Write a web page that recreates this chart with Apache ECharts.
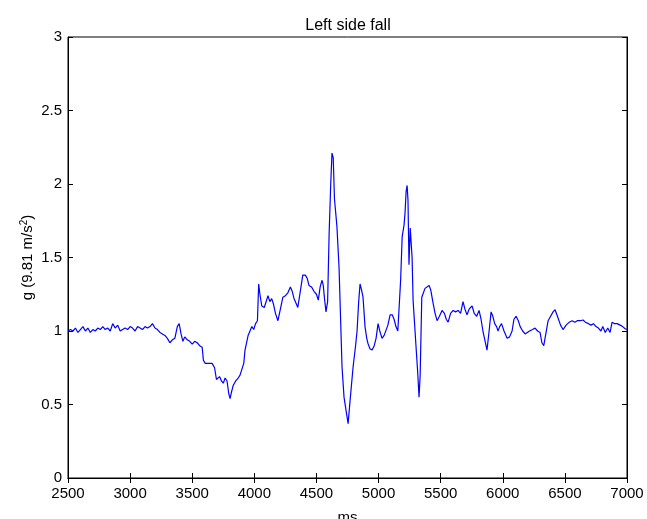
<!DOCTYPE html>
<html>
<head>
<meta charset="utf-8">
<script src="https://cdn.jsdelivr.net/npm/echarts@6/dist/echarts.min.js"></script>
<style>html,body{margin:0;padding:0;background:#fff}#c{width:647px;height:519px}</style>
</head>
<body>
<div id="c"></div>
<script>
const timeMs = [2500,2520,2540,2560,2580,2600,2620,2640,2660,2680,2700,2720,2740,2760,2780,2800,2820,2840,2860,2880,2900,2920,2940,2960,2980,3000,3020,3040,3060,3080,3100,3120,3140,3160,3180,3200,3220,3240,3260,3280,3300,3320,3340,3360,3380,3395,3410,3425,3440,3460,3480,3500,3520,3540,3560,3580,3590,3605,3620,3640,3660,3680,3695,3710,3720,3735,3750,3765,3780,3795,3805,3815,3830,3850,3870,3885,3900,3915,3925,3940,3950,3965,3980,3995,4010,4025,4035,4045,4060,4080,4095,4110,4125,4140,4155,4170,4190,4210,4230,4250,4270,4290,4305,4320,4340,4350,4370,4390,4410,4425,4440,4460,4480,4500,4515,4530,4545,4555,4565,4577,4590,4602,4615,4625,4635,4645,4665,4682,4706,4722,4740,4755,4771,4795,4815,4827,4840,4851,4863,4875,4891,4905,4915,4930,4948,4965,4980,4996,5010,5028,5045,5060,5075,5093,5110,5125,5140,5155,5165,5178,5190,5205,5213,5222,5230,5237,5245,5255,5262,5270,5278,5290,5302,5315,5326,5335,5348,5360,5374,5390,5407,5420,5439,5455,5471,5490,5511,5530,5545,5560,5580,5600,5620,5640,5660,5680,5695,5712,5730,5753,5770,5790,5809,5825,5841,5858,5873,5890,5906,5920,5935,5950,5962,5975,5990,6010,6035,6055,6075,6090,6107,6125,6140,6160,6180,6196,6215,6240,6260,6280,6300,6315,6330,6345,6365,6385,6405,6421,6440,6465,6485,6510,6535,6558,6580,6600,6625,6646,6665,6690,6710,6730,6750,6770,6790,6805,6825,6845,6864,6880,6900,6920,6945,6965,6985,7000];
const gValues = [1.00,1.01,1.00,1.02,0.99,1.01,1.03,1.00,1.02,0.99,1.01,1.00,1.02,1.01,1.03,1.01,1.02,1.00,1.05,1.02,1.04,1.00,1.01,1.02,1.01,1.03,1.02,1.00,1.03,1.02,1.01,1.03,1.02,1.03,1.05,1.02,1.01,0.99,0.98,0.97,0.95,0.92,0.94,0.95,1.03,1.05,0.98,0.93,0.96,0.94,0.93,0.91,0.93,0.92,0.90,0.89,0.80,0.78,0.79,0.78,0.78,0.75,0.67,0.66,0.69,0.66,0.645,0.68,0.66,0.57,0.54,0.58,0.63,0.66,0.68,0.70,0.69,0.78,0.87,0.93,0.97,1.00,1.03,1.01,1.05,1.07,1.32,1.25,1.17,1.16,1.17,1.24,1.20,1.22,1.18,1.12,1.07,1.15,1.23,1.24,1.26,1.30,1.27,1.22,1.18,1.16,1.27,1.38,1.38,1.36,1.31,1.30,1.27,1.25,1.21,1.30,1.345,1.31,1.22,1.13,1.20,1.66,2.00,2.21,2.18,1.90,1.71,1.43,0.755,0.55,0.45,0.37,0.53,0.755,0.90,1.00,1.20,1.32,1.28,1.23,1.03,0.95,0.915,0.88,0.87,0.90,0.95,1.05,1.00,0.95,0.97,0.98,1.04,1.11,1.11,1.08,1.03,1.00,1.00,1.35,1.64,1.72,1.80,1.95,1.99,1.89,1.45,1.70,1.70,1.50,1.21,1.05,0.89,0.72,0.55,0.70,1.23,1.24,1.29,1.28,1.31,1.28,1.19,1.12,1.07,1.10,1.14,1.12,1.08,1.06,1.12,1.14,1.13,1.14,1.12,1.20,1.15,1.11,1.15,1.17,1.12,1.10,1.14,1.08,0.995,0.93,0.87,1.00,1.13,1.10,1.05,1.03,1.00,1.03,1.05,1.00,0.95,0.96,1.00,1.08,1.10,1.07,1.03,1.00,0.98,0.97,1.00,1.01,1.02,1.00,0.99,0.92,0.90,0.91,1.07,1.10,1.13,1.145,1.10,1.04,1.01,1.04,1.06,1.07,1.06,1.07,1.07,1.075,1.06,1.05,1.04,1.05,1.03,1.02,1.00,1.03,0.99,1.02,0.99,1.06,1.05,1.05,1.04,1.03,1.015,1.01];
const xTicks = {min: 2500, max: 7000, step: 500};
const yTicks = {min: 0, max: 3, step: 0.5};

const chart = echarts.init(document.getElementById('c'), null, {renderer: 'canvas'});
const font = 'Liberation Sans, Arial, sans-serif';
const lineData = timeMs.map((t, i) => [t, gValues[i]]);
const axisCommon = {
  axisLine: {show: true, lineStyle: {color: '#000', width: 1}},
  axisTick: {show: true, inside: true, length: 5, lineStyle: {color: '#000'}},
  splitLine: {show: false}
};
chart.setOption({
  animation: false,
  backgroundColor: '#fff',
  title: {
    text: 'Left side fall', left: 343, top: 13, textAlign: 'center',
    textStyle: {fontFamily: font, fontSize: 16, fontWeight: 'normal', color: '#000'}
  },
  grid: {left: 68, right: 20, top: 37, bottom: 41, show: true, borderColor: '#000', borderWidth: 1,
         containLabel: false, outerBoundsMode: 'none'},
  xAxis: [
    Object.assign({
      type: 'value', min: xTicks.min, max: xTicks.max, interval: xTicks.step, position: 'bottom',
      name: 'ms', nameLocation: 'middle', nameGap: 32, nameMoveOverlap: false,
      nameTextStyle: {fontFamily: font, fontSize: 15, color: '#000'},
      axisLabel: {fontFamily: font, fontSize: 15, color: '#000', margin: 8, formatter: v => String(v)}
    }, axisCommon),
    Object.assign({
      type: 'value', min: xTicks.min, max: xTicks.max, interval: xTicks.step, position: 'top',
      axisLabel: {show: false}
    }, axisCommon)
  ],
  yAxis: [
    Object.assign({
      type: 'value', min: yTicks.min, max: yTicks.max, interval: yTicks.step, position: 'left',
      name: '{a|g (9.81 m/s}{b|2}{a|)}', nameLocation: 'middle', nameGap: 32, nameMoveOverlap: false,
      nameTextStyle: {
        fontFamily: font, fontSize: 15, color: '#000',
        rich: {
          a: {fontFamily: font, fontSize: 15, color: '#000'},
          b: {fontFamily: font, fontSize: 10, color: '#000', padding: [0, 0, 7, 0]}
        }
      },
      axisLabel: {fontFamily: font, fontSize: 15, color: '#000', margin: 6}
    }, axisCommon),
    Object.assign({
      type: 'value', min: yTicks.min, max: yTicks.max, interval: yTicks.step, position: 'right',
      axisLabel: {show: false}
    }, axisCommon)
  ],
  series: [{
    type: 'line', data: lineData, showSymbol: false, symbol: 'none',
    lineStyle: {color: '#0000ff', width: 1.2}, itemStyle: {color: '#0000ff'}
  }]
});
</script>
</body>
</html>
